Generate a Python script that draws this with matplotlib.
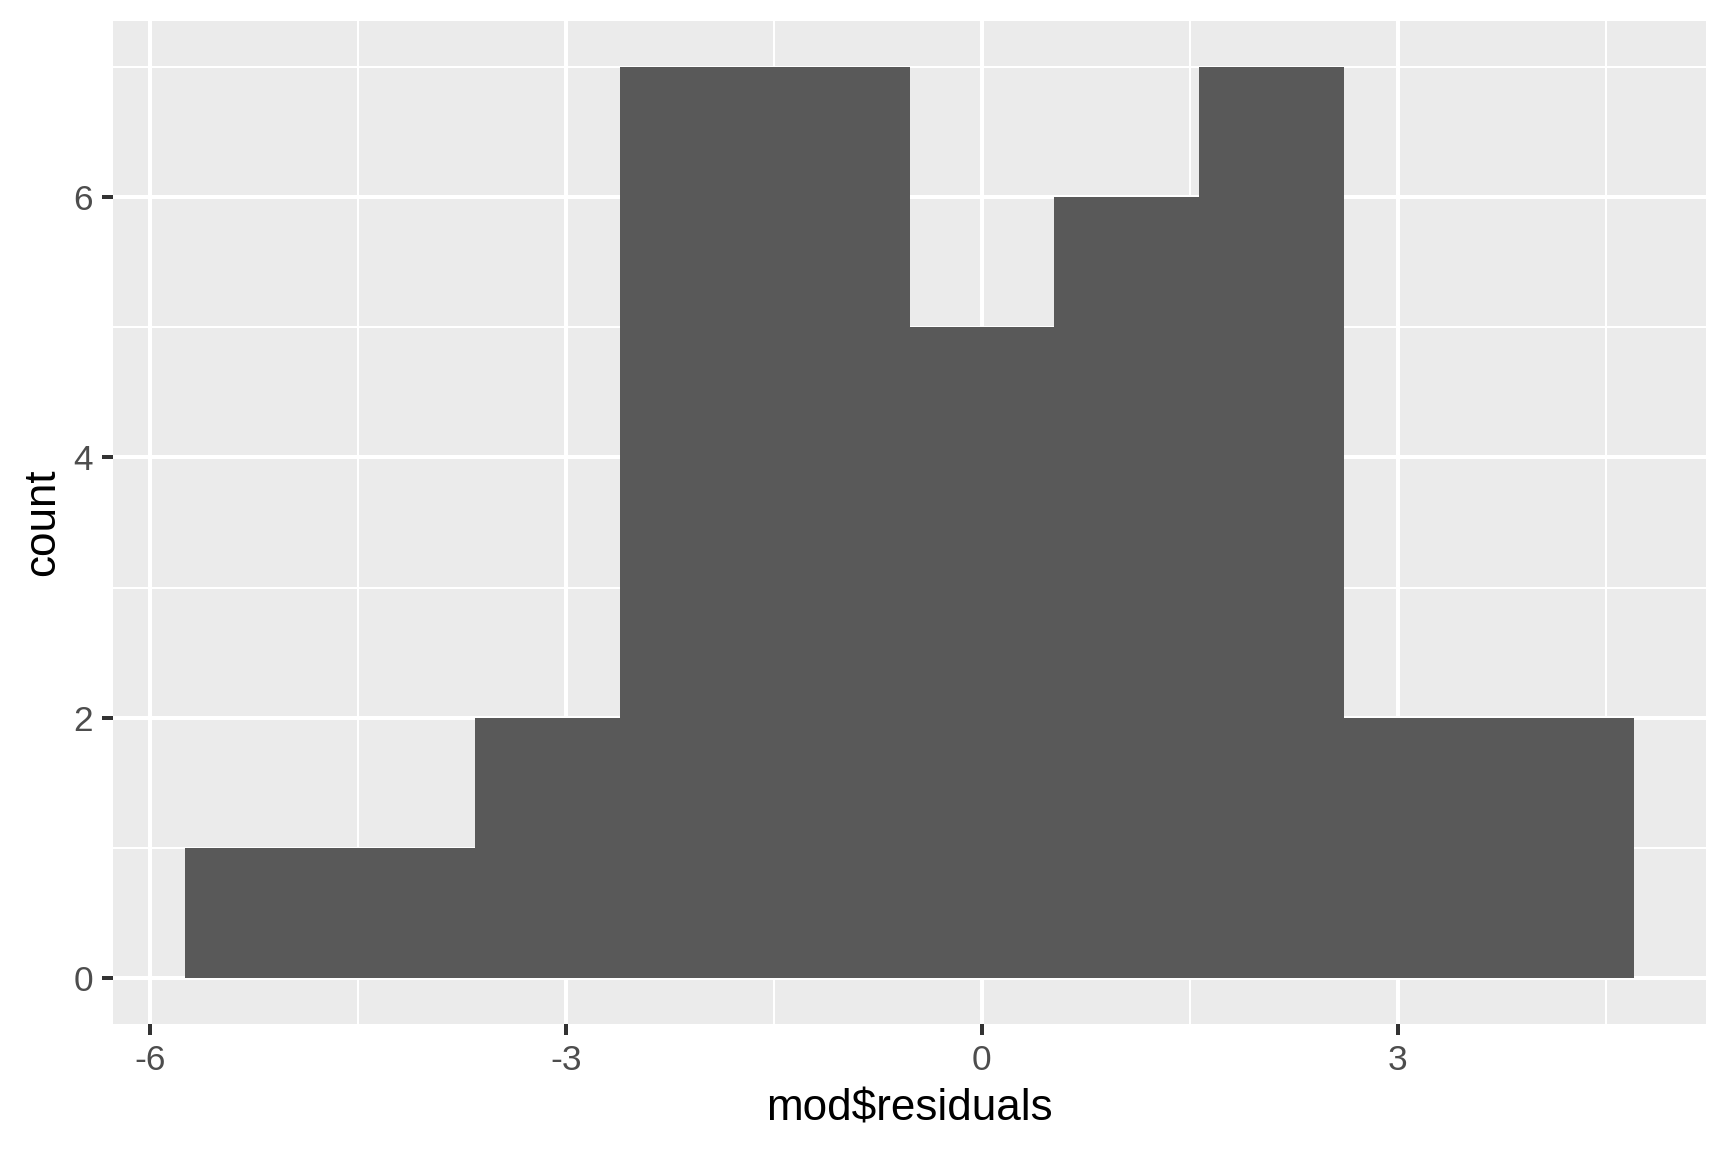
import numpy as np
import matplotlib
matplotlib.use('Agg')
from matplotlib import pyplot as plt

# histogram of residuals (10 bins, width ~1.045, centred on 0)
bin_edges = [-5.7475, -4.7025, -3.6575, -2.6125, -1.5675, -0.5225,
             0.5225, 1.5675, 2.6125, 3.6575, 4.7025]
counts = [1, 1, 2, 7, 7, 5, 6, 7, 2, 2]
x_ticks = [-6, -3, 0, 3]
y_ticks = [0, 2, 4, 6]

plt.rcParams['font.family'] = ['Liberation Sans', 'DejaVu Sans']
plt.rcParams['axes.unicode_minus'] = False


def main():
    fig = plt.figure(figsize=(6, 4), dpi=288)
    W, H = 1728, 1152
    ax = fig.add_axes([113 / W, (H - 1024) / H, (1706 - 113) / W, (1024 - 21) / H])
    ax.set_facecolor('#EBEBEB')

    lo, hi = bin_edges[0], bin_edges[-1]
    pad = 0.05 * (hi - lo)
    ax.set_xlim(lo - pad, hi + pad)
    ymax = max(counts)
    ax.set_ylim(-0.05 * ymax, ymax * 1.05)

    ax.set_xticks(x_ticks)
    ax.set_yticks(y_ticks)
    ax.set_xticks([-4.5, -1.5, 1.5, 4.5], minor=True)
    ax.set_yticks([1, 3, 5, 7], minor=True)
    ax.grid(True, which='major', color='white', linewidth=1.0)
    ax.grid(True, which='minor', color='white', linewidth=0.5)
    ax.set_axisbelow(True)

    edges = np.array(bin_edges)
    ax.bar(edges[:-1], counts, width=np.diff(edges), align='edge',
           color='#595959', linewidth=0, zorder=2)

    for s in ax.spines.values():
        s.set_visible(False)
    ax.tick_params(which='major', length=2.75, width=1.0, color='#333333',
                   labelsize=8.8, labelcolor='#4D4D4D', pad=2.2)
    ax.tick_params(which='minor', length=0)

    ax.set_xlabel('mod$residuals', fontsize=11, color='black', labelpad=3)
    ax.set_ylabel('count', fontsize=11, color='black', labelpad=2.5)

    fig.savefig('out.png', dpi=288)


if __name__ == '__main__':
    main()
